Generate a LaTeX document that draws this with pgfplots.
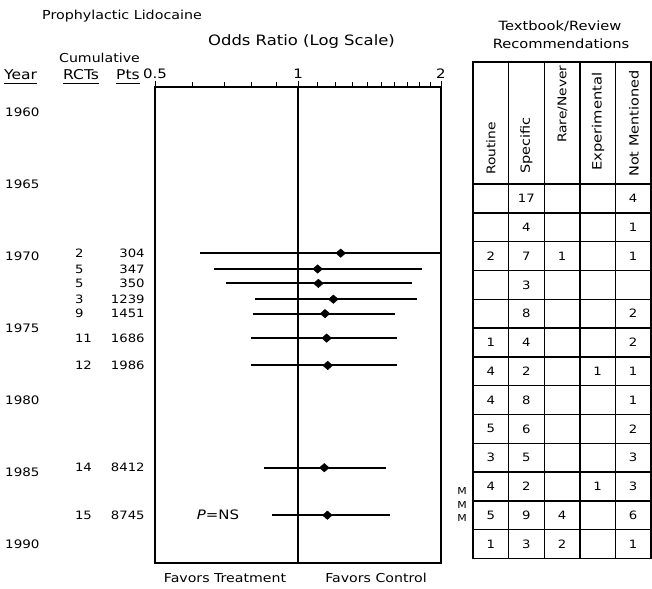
\documentclass[border=0pt]{standalone}
\usepackage{fontspec}
\setmainfont{DejaVu Sans}[FakeStretch=1.15]
\usepackage{pgfplots}
\usepackage{pgfplotstable}
\pgfplotsset{compat=1.18}
\newcommand\fs[1]{\fontsize{#1}{#1}\selectfont}

\pgfplotstableread{
year rcts pts lo or hi
1969.8 2 304 0.622 1.230 2.000
1970.9 5 347 0.666 1.100 1.821
1971.9 5 350 0.705 1.104 1.735
1973.0 3 1239 0.812 1.187 1.778
1974.0 9 1451 0.803 1.140 1.600
1975.7 11 1686 0.798 1.149 1.614
1977.6 12 1986 0.798 1.155 1.614
1984.7 14 8412 0.848 1.136 1.532
1988.0 15 8745 0.880 1.153 1.560
}\forest

\pgfplotstableread{
c y v
1.5 1966 17
4.5 1966 4
1.5 1968 4
4.5 1968 1
0.5 1970 2
1.5 1970 7
2.5 1970 1
4.5 1970 1
1.5 1972 3
1.5 1974 8
4.5 1974 2
0.5 1976 1
1.5 1976 4
4.5 1976 2
0.5 1978 4
1.5 1978 2
3.5 1978 1
4.5 1978 1
0.5 1980 4
1.5 1980 8
4.5 1980 1
0.5 1982 5
1.5 1982 6
4.5 1982 2
0.5 1984 3
1.5 1984 5
4.5 1984 3
0.5 1986 4
1.5 1986 2
3.5 1986 1
4.5 1986 3
0.5 1988 5
1.5 1988 9
2.5 1988 4
4.5 1988 6
0.5 1990 1
1.5 1990 3
2.5 1990 2
4.5 1990 1
}\recs

\begin{document}
\begin{tikzpicture}
\path[use as bounding box] (0pt,0pt) rectangle (652pt,-588pt);

% headings
\node[anchor=west, inner sep=0pt, font=\fs{12.4}] at (42pt,-16pt) {Prophylactic Lidocaine};
\node[inner sep=0pt, font=\fs{14.3}] at (301.5pt,-41.7pt) {Odds Ratio (Log Scale)};
\node[inner sep=0pt, font=\fs{12.3}] at (99.5pt,-58pt) {Cumulative};
\node[anchor=base west, inner sep=0pt, font=\fs{13.5}] (yr) at (4pt,-80pt) {Year};
\node[anchor=base west, inner sep=0pt, font=\fs{13.5}] (rc) at (63pt,-80pt) {RCTs};
\node[anchor=base west, inner sep=0pt, font=\fs{13.5}] (pt) at (116pt,-80pt) {Pts};
\foreach \n in {yr,rc,pt}{\draw[line width=1.5pt] ([yshift=-3.5pt]\n.base west) -- ([yshift=-3.5pt]\n.base east);}

\node[inner sep=0pt, font=\fs{12.3}] at (225pt,-578pt) {Favors Treatment};
\node[inner sep=0pt, font=\fs{12.3}] at (376pt,-578pt) {Favors Control};
\node[inner sep=0pt, font=\fs{13}] at (218pt,-515pt) {\textit{P}=NS};

\node[inner sep=0pt, font=\fs{12.75}] at (560pt,-26pt) {Textbook/Review};
\node[inner sep=0pt, font=\fs{12.75}] at (561pt,-44pt) {Recommendations};
\node[rotate=90, anchor=west, inner sep=0pt, font=\fs{12}] at (491pt,-175pt) {Routine};
\node[rotate=90, anchor=west, inner sep=0pt, font=\fs{12.6}] at (526.5pt,-174pt) {Specific};
\node[rotate=90, anchor=west, inner sep=0pt, font=\fs{12}] at (562.5pt,-143pt) {Rare/Never};
\node[rotate=90, anchor=west, inner sep=0pt, font=\fs{12.8}] at (598pt,-171pt) {Experimental};
\node[rotate=90, anchor=west, inner sep=0pt, font=\fs{12.6}] at (634pt,-177pt) {Not Mentioned};
\node[inner sep=0pt, font=\fs{9.5}] at (462pt,-491pt) {M};
\node[inner sep=0pt, font=\fs{9.5}] at (462pt,-505pt) {M};
\node[inner sep=0pt, font=\fs{9.5}] at (462pt,-518pt) {M};

% top tick scale of the forest plot
\begin{axis}[
  at={(155pt,-87pt)}, anchor=north west, scale only axis,
  width=286pt, height=476pt,
  xmode=log, xmin=0.5, xmax=2, ymin=0, ymax=1,
  axis x line*=top, axis y line=none,
  xtick={0.5,1,2}, xticklabels={0.5,1,2},
  minor xtick={0.6,0.7,0.8,0.9,1.1,1.2,1.3,1.4,1.5,1.6,1.7,1.8,1.9},
  tick align=outside,
  major tick length=6pt, minor tick length=5pt,
  every tick/.style={black, line width=1pt},
  xticklabel style={font=\fs{13}, inner sep=2pt},
  axis line style={line width=1.5pt, -},
  /pgf/number format/assume math mode=true,
]
\end{axis}

% forest plot
\begin{axis}[
  at={(155pt,-87pt)}, anchor=north west, scale only axis,
  width=286pt, height=476pt,
  xmode=log, xmin=0.5, xmax=2,
  ymin=1958.26, ymax=1991.32, y dir=reverse,
  xtick=\empty,
  ytick={1960,1965,...,1990}, ytick style={draw=none},
  yticklabel style={anchor=west, xshift=-150pt, inner sep=0pt, font=\fs{11.7}},
  axis line style={line width=1.5pt},
  clip=false,
  /pgf/number format/assume math mode=true,
  /pgf/number format/1000 sep={},
]
\addplot[line width=1.1pt] coordinates {(1,1958.26) (1,1991.32)};
\addplot[line width=2pt] coordinates {(0.622,1969.8) (2.000,1969.8)};
\addplot[line width=2pt] coordinates {(0.666,1970.9) (1.821,1970.9)};
\addplot[line width=2pt] coordinates {(0.705,1971.9) (1.735,1971.9)};
\addplot[line width=2pt] coordinates {(0.812,1973.0) (1.778,1973.0)};
\addplot[line width=2pt] coordinates {(0.803,1974.0) (1.600,1974.0)};
\addplot[line width=2pt] coordinates {(0.798,1975.7) (1.614,1975.7)};
\addplot[line width=2pt] coordinates {(0.798,1977.6) (1.614,1977.6)};
\addplot[line width=2pt] coordinates {(0.848,1984.7) (1.532,1984.7)};
\addplot[line width=2pt] coordinates {(0.880,1988.0) (1.560,1988.0)};
\addplot[only marks, mark=diamond*, mark size=5pt, mark options={black, xscale=1.3, yscale=0.85}]
  table[x=or, y=year]{\forest};
\addplot[draw=none, nodes near coords, point meta=explicit symbolic,
  every node near coord/.append style={anchor=west, inner sep=0pt, font=\fs{11.5}}]
  table[x expr=0.339, y=year, meta=rcts]{\forest};
\addplot[draw=none, nodes near coords, point meta=explicit symbolic,
  every node near coord/.append style={anchor=east, inner sep=0pt, font=\fs{11.5}}]
  table[x expr=0.476, y=year, meta=pts]{\forest};
\end{axis}

% recommendations table
\begin{axis}[
  at={(473pt,-62pt)}, anchor=north west, scale only axis,
  width=178pt, height=496.4pt,
  xmin=0, xmax=5, ymin=1956.52, ymax=1991, y dir=reverse,
  xtick={1,2,3,4}, ytick={1965,1967,...,1989},
  xticklabels={}, yticklabels={},
  major tick length=0pt,
  xmajorgrids, ymajorgrids,
  major grid style={black, line width=1.4pt},
  axis line style={line width=1.5pt},
  clip=false,
]
\addplot[draw=none, nodes near coords, point meta=explicit symbolic,
  every node near coord/.append style={anchor=center, inner sep=0pt, font=\fs{11.5}}]
  table[x=c, y=y, meta=v]{\recs};
\end{axis}
\end{tikzpicture}
\end{document}
